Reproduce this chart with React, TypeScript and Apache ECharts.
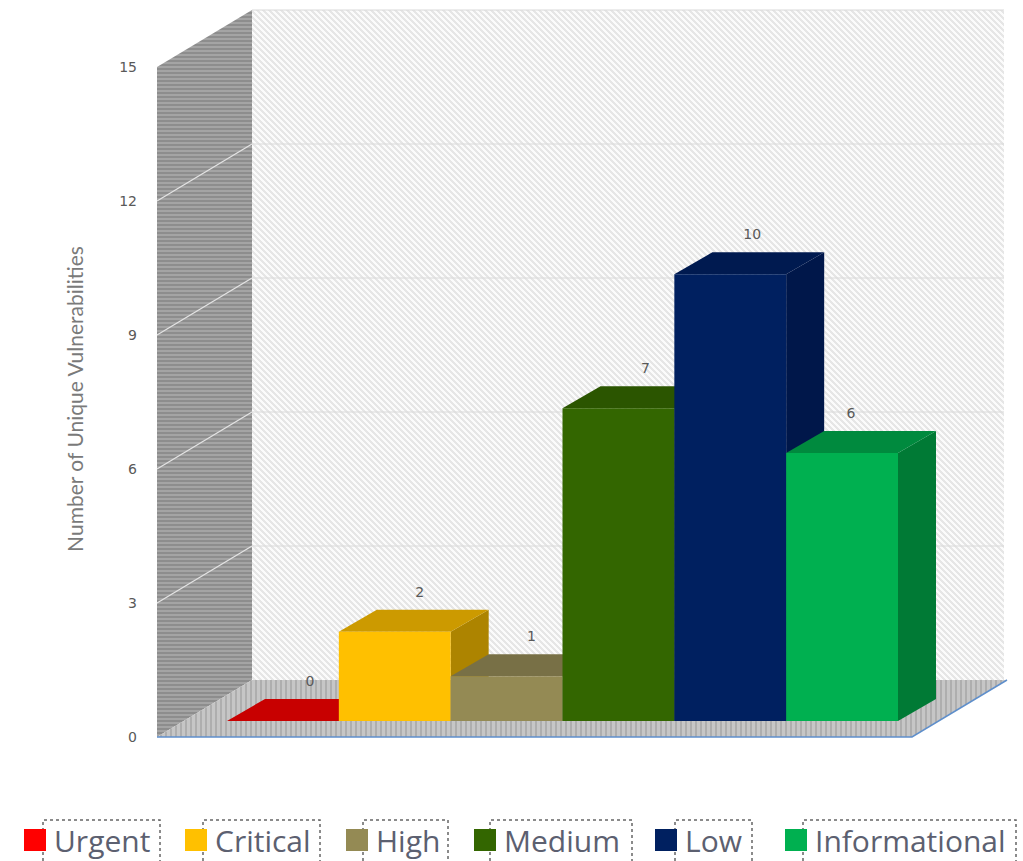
import React, { useEffect, useRef } from "react";
import * as echarts from "echarts";

const severities = ["Urgent", "Critical", "High", "Medium", "Low", "Informational"];
const counts = [0, 2, 1, 7, 10, 6];
const frontColors = ["#ff0000", "#ffc000", "#948a54", "#336600", "#002060", "#00b050"];
const topColors = ["#c80000", "#cc9a00", "#787046", "#2b5500", "#001a50", "#008a3e"];
const sideColors = ["#a80000", "#ad8400", "#655e3a", "#234500", "#00174a", "#007a35"];
const valueTicks = [0, 3, 6, 9, 12, 15];
const labelShift = [27, 25, 25, 27, 22, 9];
const legendSwatchLeft = [24, 185, 346, 474, 655, 785];
const legendBoxes = [
  [43, 160],
  [203, 320],
  [363, 448],
  [490, 632],
  [675, 752],
  [803, 1016],
];

// Receding offset of the chart box and of each column, in pixels.
const WALL_DX = 95;
const WALL_DY = 57;
const BAR_DX = 38;
const BAR_DY = 22;

function hatch(size: number, paint: (x: number, y: number) => string) {
  const canvas = document.createElement("canvas");
  canvas.width = size;
  canvas.height = size;
  const ctx = canvas.getContext("2d")!;
  for (let y = 0; y < size; y++) {
    for (let x = 0; x < size; x++) {
      ctx.fillStyle = paint(x, y);
      ctx.fillRect(x, y, 1, 1);
    }
  }
  return { image: canvas, repeat: "repeat" as const };
}

export default function App() {
  const ref = useRef<HTMLDivElement>(null);

  useEffect(() => {
    document.body.style.margin = "0";
    const chart = echarts.init(ref.current!, undefined, { renderer: "svg" });

    const backFill = hatch(6, (x, y) => ((x - y + 12) % 6 < 3 ? "#e6e6e6" : "#fbfbfb"));
    const sideFill = hatch(4, (_x, y) => (y % 4 < 2 ? "#8d8d8d" : "#a4a4a4"));
    const floorFill = hatch(5, (x) => (x % 5 < 2 ? "#aeaeae" : "#c6c6c6"));

    const renderBox = (params: any, api: any) => {
      const { x, y, width, height } = params.coordSys;
      const bottom = y + height;
      const right = x + width;
      const children: any[] = [
        {
          type: "polygon",
          shape: {
            points: [
              [x + WALL_DX, y - WALL_DY],
              [right + WALL_DX - 3, y - WALL_DY],
              [right + WALL_DX - 3, bottom - WALL_DY],
              [x + WALL_DX, bottom - WALL_DY],
            ],
          },
          style: { fill: backFill },
        },
        {
          type: "polygon",
          shape: {
            points: [
              [x, y],
              [x + WALL_DX, y - WALL_DY],
              [x + WALL_DX, bottom - WALL_DY],
              [x, bottom],
            ],
          },
          style: { fill: sideFill },
        },
        {
          type: "polygon",
          shape: {
            points: [
              [x, bottom],
              [x + WALL_DX, bottom - WALL_DY],
              [right + WALL_DX, bottom - WALL_DY],
              [right, bottom],
            ],
          },
          style: { fill: floorFill },
        },
      ];
      valueTicks.slice(1).forEach((tick) => {
        const ty = api.coord([0, tick])[1];
        children.push({
          type: "line",
          shape: { x1: x + WALL_DX, y1: ty - WALL_DY, x2: right + WALL_DX - 3, y2: ty - WALL_DY },
          style: { stroke: "#dadada", lineWidth: 1.2 },
        });
        if (tick < 15) {
          children.push({
            type: "line",
            shape: { x1: x, y1: ty, x2: x + WALL_DX, y2: ty - WALL_DY },
            style: { stroke: "#e4e4e4", lineWidth: 1.2 },
          });
        }
      });
      children.push({
        type: "polyline",
        shape: {
          points: [
            [x, bottom],
            [right, bottom],
            [right + WALL_DX, bottom - WALL_DY],
          ],
        },
        style: { stroke: "#5f8fcb", lineWidth: 1.5, fill: "none" },
      });
      return { type: "group", children };
    };

    const renderColumn = (index: number) => (_params: any, api: any) => {
      const value = api.value(1);
      const [cx, top] = api.coord([api.value(0), value]);
      const base = api.coord([api.value(0), 0])[1];
      const half = api.size([1, 0])[0] / 2;
      const l = cx - half;
      const r = cx + half;
      const children: any[] = [];
      if (value > 0) {
        children.push({
          type: "polygon",
          shape: {
            points: [
              [r, top],
              [r + BAR_DX, top - BAR_DY],
              [r + BAR_DX, base - BAR_DY],
              [r, base],
            ],
          },
          style: { fill: sideColors[index] },
        });
      }
      children.push({
        type: "polygon",
        shape: {
          points: [
            [l, top],
            [l + BAR_DX, top - BAR_DY],
            [r + BAR_DX, top - BAR_DY],
            [r, top],
          ],
        },
        style: { fill: topColors[index] },
      });
      if (value > 0) {
        children.push({
          type: "rect",
          shape: { x: l, y: top, width: r - l, height: base - top },
          style: { fill: frontColors[index] },
        });
      }
      children.push({
        type: "text",
        style: {
          x: cx + labelShift[index],
          y: top - 40,
          text: String(value),
          fill: "#595959",
          font: '14px "DejaVu Sans"',
          align: "center",
          verticalAlign: "middle",
        },
      });
      return { type: "group", children };
    };

    chart.setOption({
      animation: false,
      backgroundColor: "#ffffff",
      grid: [
        { left: 157, top: 67, width: 755, height: 670, containLabel: false },
        { left: 227, top: 51, width: 671, height: 670, containLabel: false },
      ],
      xAxis: [
        { type: "category", gridIndex: 0, data: severities, show: false },
        { type: "category", gridIndex: 1, data: severities, show: false },
      ],
      yAxis: [
        {
          type: "value",
          gridIndex: 0,
          min: 0,
          max: 15,
          interval: 3,
          name: "Number of Unique Vulnerabilities",
          nameLocation: "middle",
          nameGap: 72,
          nameTextStyle: {
            color: "#7a7a7a",
            fontFamily: "Lato",
            fontSize: 21,
            padding: [0, 0, 0, 6],
          },
          axisLine: { show: false },
          axisTick: { show: false },
          splitLine: { show: false },
          axisLabel: {
            color: "#595959",
            fontFamily: "DejaVu Sans",
            fontSize: 14,
            margin: 20,
          },
        },
        { type: "value", gridIndex: 1, min: 0, max: 15, interval: 3, show: false, splitLine: { show: false } },
      ],
      legend: severities.map((name, i) => ({
        data: [name],
        left: legendSwatchLeft[i],
        top: 825,
        padding: 0,
        icon: "rect",
        itemWidth: 22,
        itemHeight: 22,
        selectedMode: false,
        textStyle: { color: "#5c6070", fontFamily: "Open Sans", fontSize: 30, padding: [0, 0, 0, 3] },
      })),
      graphic: legendBoxes.map(([left, right]) => ({
        type: "polyline",
        silent: true,
        shape: {
          points: [
            [left, 861],
            [left, 820],
            [right, 820],
            [right, 861],
          ],
        },
        style: { stroke: "#666666", lineWidth: 1.5, lineDash: [3, 3], fill: "none" },
      })),
      series: [
        {
          type: "custom",
          name: "box",
          xAxisIndex: 0,
          yAxisIndex: 0,
          silent: true,
          data: [[0, 0]],
          renderItem: renderBox,
        },
        ...severities.map((name, i) => ({
          type: "custom",
          name,
          xAxisIndex: 1,
          yAxisIndex: 1,
          silent: true,
          itemStyle: { color: frontColors[i] },
          encode: { x: 0, y: 1 },
          data: [[i, counts[i]]],
          renderItem: renderColumn(i),
        })),
      ],
    });

    return () => chart.dispose();
  }, []);

  return <div ref={ref} style={{ width: 1023, height: 861 }} />;
}
